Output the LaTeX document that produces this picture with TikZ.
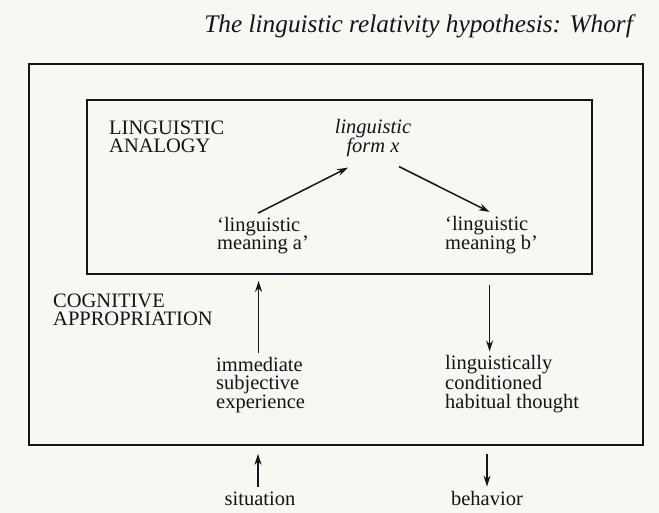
\documentclass[tikz,border=0pt]{standalone}
\usepackage{fontspec}
\setmainfont{Liberation Serif}
\usetikzlibrary{arrows.meta}
\definecolor{paper}{RGB}{248,247,241}
\definecolor{ink}{RGB}{20,20,28}
\tikzset{
  lbl/.style={inner sep=4pt, align=left, text=ink, font=\fontsize{20.5}{18.5}\selectfont},
  arr/.style={ink, line width=1.5pt, -{Stealth[length=11pt,width=7pt]}},
  box/.style={draw=ink, line width=1.8pt, inner sep=0pt}
}
\begin{document}
\begin{tikzpicture}[x=1pt,y=-1pt]

% Paper and bounding box
\fill[paper] (0,0) rectangle (659,513);
\useasboundingbox (0,0) rectangle (659,513);
% Title
\node[lbl, anchor=base east, font=\fontsize{25.3}{18}\selectfont\itshape] (title) at (637,33) {The linguistic relativity hypothesis: Whorf};
% Outer rectangle (cognitive appropriation) and inner one (linguistic analogy)
\node[box, minimum width=614, minimum height=381] (outer) at (336,254.5) {};
\node[box, minimum width=505, minimum height=174] (inner) at (339.5,187) {};
% Labels (base = last line)
\node[lbl, anchor=base west] (analogy) at (105,153) {LINGUISTIC\\ANALOGY};
\node[lbl, anchor=base, align=center, font=\fontsize{20.5}{18.5}\selectfont\itshape] (form) at (373,153) {linguistic\\form x};
\node[lbl, anchor=base west] (ma) at (213,250) {`linguistic\\meaning a'};
\node[lbl, anchor=base west] (mb) at (441,250) {`linguistic\\meaning b'};
\node[lbl, anchor=base west] (cog) at (49,326) {COGNITIVE\\APPROPRIATION};
\node[lbl, anchor=base west] (exp) at (212,408) {immediate\\subjective\\experience};
\node[lbl, anchor=base west] (hab) at (441,408) {linguistically\\conditioned\\habitual thought};
\node[lbl, anchor=base] (sit) at (260,505) {situation};
\node[lbl, anchor=base] (beh) at (487,505) {behavior};
% Arrows inside the analogy box
\draw[arr] ([xshift=-5pt]ma.north) -- ([xshift=-25pt,yshift=-6pt]form.south);
\draw[arr] ([xshift=26pt,yshift=-5pt]form.south) -- ([xshift=-2pt]mb.north);
% Arrows across the boxes
\draw[arr, shorten >=6pt] ([xshift=-2pt]exp.north) -- ([xshift=-2pt]exp.north |- inner.south);
\draw[arr, shorten <=10pt] ([xshift=-2pt]mb.south |- inner.south) -- ([xshift=-2pt]mb.south |- hab.north);
\draw[arr, shorten >=8pt] ([xshift=-2pt]sit.north) -- ([xshift=-2pt]sit.north |- outer.south);
\draw[arr, shorten <=8pt] (beh.north |- outer.south) -- (beh.north);

\end{tikzpicture}
\end{document}
